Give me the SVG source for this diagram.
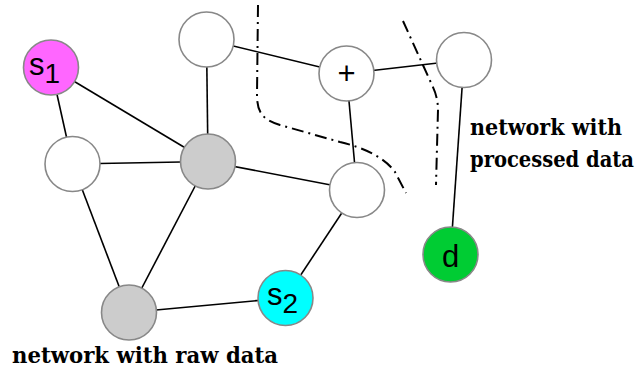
<svg xmlns="http://www.w3.org/2000/svg" width="640" height="370" viewBox="0 0 640 370">
<style>
.edge{stroke:#000;stroke-width:1.6;fill:none}
.bound{stroke:#000;stroke-width:2;fill:none;stroke-dasharray:12,5,2,5}
.node{stroke:#888;stroke-width:1.6}
.lbl{font-family:"Liberation Sans",Arial,sans-serif;font-size:31px;fill:#000}
.cap{font-family:"DejaVu Serif Condensed","DejaVu Serif",serif;font-size:22px;font-weight:bold;fill:#000}
</style>
<rect width="640" height="370" fill="#fff"/>
<g id="connectors">
<line class="edge" x1="51" y1="67.5" x2="72.5" y2="164"/>
<line class="edge" x1="51" y1="67.5" x2="208" y2="161.5"/>
<line class="edge" x1="72.5" y1="164" x2="208" y2="161.5"/>
<line class="edge" x1="206.5" y1="39.5" x2="208" y2="161.5"/>
<line class="edge" x1="206.5" y1="39.5" x2="346.5" y2="73.5"/>
<line class="edge" x1="346.5" y1="73.5" x2="464" y2="60"/>
<line class="edge" x1="346.5" y1="73.5" x2="357" y2="190"/>
<line class="edge" x1="208" y1="161.5" x2="357" y2="190"/>
<line class="edge" x1="72.5" y1="164" x2="129" y2="312.5"/>
<line class="edge" x1="208" y1="161.5" x2="129" y2="312.5"/>
<line class="edge" x1="129" y1="312.5" x2="285.5" y2="298"/>
<line class="edge" x1="285.5" y1="298" x2="357" y2="190"/>
<line class="edge" x1="464" y1="60" x2="450.5" y2="254.5"/>
</g>
<g id="boundaries">
<path class="bound" d="M258,5 L257,95 C257,115 265,120 280,125 L340,142 C365,148 385,158 395,172 L406,193"/>
<path class="bound" d="M403,21 L432,85 Q438,97 438,110 L436,185"/>
</g>
<g id="s1"><circle class="node" cx="51" cy="67.5" r="27.5" fill="#ff66ff"/><text class="lbl" x="29" y="75">s<tspan font-size="28" dy="8">1</tspan></text></g>
<g id="n_top"><circle class="node" cx="206.5" cy="39.5" r="27.5" fill="#fff"/></g>
<g id="n_left"><circle class="node" cx="72.5" cy="164" r="27.5" fill="#fff"/></g>
<g id="n_center"><circle class="node" cx="208" cy="161.5" r="27.5" fill="#cccccc"/></g>
<g id="n_plus"><circle class="node" cx="346.5" cy="73.5" r="27.5" fill="#fff"/><text class="lbl" x="346.5" y="84" text-anchor="middle" font-size="32">+</text></g>
<g id="n_topright"><circle class="node" cx="464" cy="60" r="27.5" fill="#fff"/></g>
<g id="n_right"><circle class="node" cx="357" cy="190" r="27.5" fill="#fff"/></g>
<g id="d"><circle class="node" cx="450.5" cy="254.5" r="27.5" fill="#00cc33"/><text class="lbl" x="450.5" y="267" text-anchor="middle">d</text></g>
<g id="n_bottom"><circle class="node" cx="129" cy="312.5" r="27.5" fill="#cccccc"/></g>
<g id="s2"><circle class="node" cx="285.5" cy="298" r="27.5" fill="#00ffff"/><text class="lbl" x="267" y="305">s<tspan font-size="28" dy="8">2</tspan></text></g>
<g id="captions">
<text class="cap" x="470" y="135" textLength="152" lengthAdjust="spacingAndGlyphs">network with</text>
<text class="cap" x="470" y="167" textLength="164" lengthAdjust="spacingAndGlyphs">processed data</text>
<text class="cap" x="12" y="363" textLength="266" lengthAdjust="spacingAndGlyphs">network with raw data</text>
</g>
</svg>
